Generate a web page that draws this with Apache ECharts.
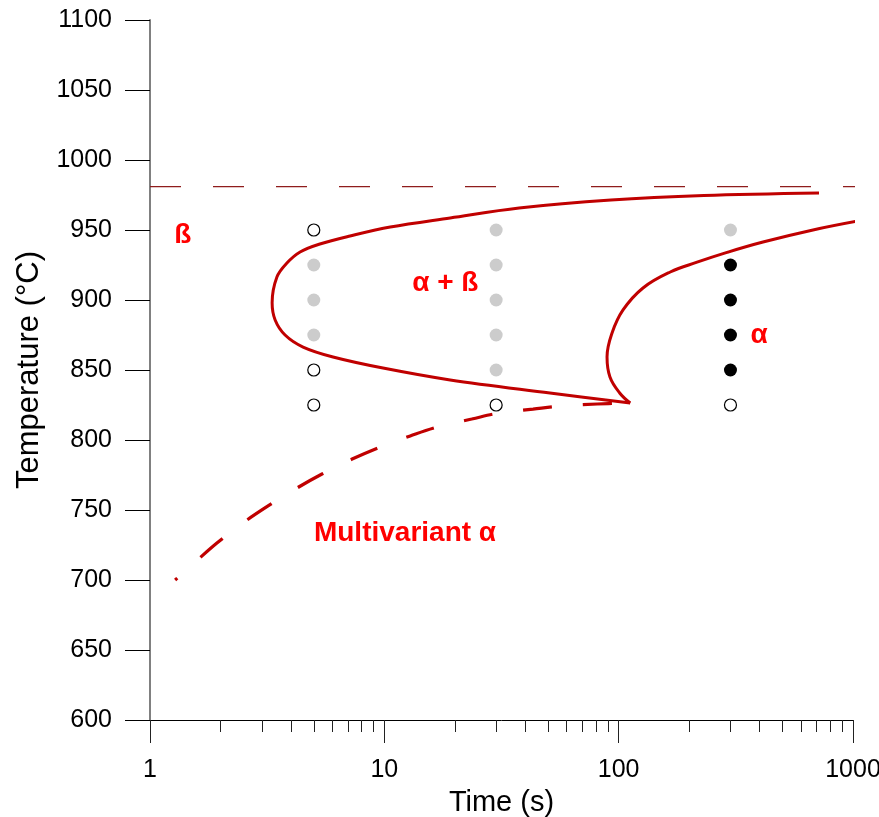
<!DOCTYPE html>
<html>
<head>
<meta charset="utf-8">
<script src="https://cdn.jsdelivr.net/npm/echarts@6/dist/echarts.min.js"></script>
<style>
  html, body { margin: 0; padding: 0; background: #fff; }
  #chart { width: 879px; height: 817px; }
</style>
</head>
<body>
<div id="chart"></div>
<script>
// axis ticks
var majorTicks = [1, 10, 100, 1000];
var minorTicks = [2, 3, 4, 5, 6, 7, 8, 9, 20, 30, 40, 50, 60, 70, 80, 90, 200, 300, 400, 500, 600, 700, 800, 900];

// beta transus (dashed line), [time, temp]
var transus = [[1, 981], [1180, 981]];

// alpha+beta C-curve: upper branch -> nose -> lower branch -> tip
var curveUpper = [
  [716, 976.4], [231, 974.6], [92.7, 971.4], [37.6, 965.7], [19.1, 958.6], [10.6, 952.1],
  [7.14, 945.7], [5.31, 940], [4.37, 934.3], [3.84, 926.4], [3.48, 916.4], [3.32, 898],
  [3.42, 885.7], [3.77, 875], [4.5, 866.4], [6.04, 859.3],
  [9.87, 851.4], [19.1, 842.9], [50.9, 833.6], [112, 826.4]
];
// curl back up from the tip (alpha finish)
var curveReturn = [
  [112, 826.4], [101, 833.6], [91.8, 845], [89.2, 859.3], [93.7, 876.4], [104.4, 892.9],
  [127, 908.6], [166, 920], [216, 927], [290, 934], [413, 941.4], [675, 950], [1050, 956.4]
];
// multivariant alpha start (dashed)
var multiCurve = [
  [1.28, 700], [1.54, 712], [1.93, 726.4], [2.49, 740.7], [3.19, 752.9], [4.24, 765.7],
  [5.42, 775.7], [7.29, 786.4], [9.6, 795], [12.9, 802.9], [16.9, 809.3], [23.6, 815],
  [31, 819.3], [43.1, 822.1], [57.5, 824.3], [81, 825.7], [114, 826.4]
];

// experiment points
var openPts = [[5, 950], [5, 850], [5, 825], [30, 825], [300, 825]];
var grayPts = [[5, 925], [5, 900], [5, 875], [30, 950], [30, 925], [30, 900], [30, 875], [30, 850], [300, 950]];
var blackPts = [[300, 925], [300, 900], [300, 875], [300, 850]];

// region labels [time, temp, text]
var regionLabels = [
  [1.38, 946.4, 'ß'],
  [18.2, 912, 'α + ß'],
  [397, 875, 'α'],
  [12.25, 733.6, 'Multivariant α']
];

var FONT = 'Liberation Sans, Arial, sans-serif';
var RED = '#c00000';

var chart = echarts.init(document.getElementById('chart'));

var option = {
  animation: false,
  backgroundColor: '#fff',
  grid: { left: 150, right: 26, top: 20, bottom: 97, containLabel: false, outerBoundsMode: 'none' },
  xAxis: [
    {
      type: 'log', logBase: 10, min: 1, max: 1000,
      name: 'Time (s)', nameLocation: 'middle', nameGap: 68,
      nameTextStyle: { fontFamily: FONT, fontSize: 29, color: '#000' },
      axisLine: { show: true, lineStyle: { color: '#000', width: 1 } },
      axisTick: { show: true, length: 23, customValues: majorTicks, lineStyle: { color: '#222', width: 1 } },
      axisLabel: {
        customValues: majorTicks, margin: 38, fontFamily: FONT, fontSize: 25, color: '#000',
        formatter: function (v) { return String(v); }
      },
      splitLine: { show: false },
      minorTick: { show: false }
    },
    {
      type: 'log', logBase: 10, min: 1, max: 1000, position: 'bottom',
      axisLine: { show: false },
      axisTick: { show: true, length: 12, customValues: minorTicks, lineStyle: { color: '#222', width: 1 } },
      axisLabel: { show: false },
      splitLine: { show: false }
    }
  ],
  yAxis: {
    type: 'value', min: 600, max: 1100, interval: 50,
    name: 'Temperature (°C)', nameLocation: 'middle', nameGap: 105, nameRotate: 90,
    nameTextStyle: { fontFamily: FONT, fontSize: 31, color: '#000' },
    axisLine: { show: true, lineStyle: { color: '#808080', width: 2 } },
    axisTick: { show: true, length: 25, lineStyle: { color: '#000', width: 1 } },
    axisLabel: {
      margin: 38, fontFamily: FONT, fontSize: 25, color: '#000',
      formatter: function (v) { return String(v); }
    },
    splitLine: { show: false }
  },
  series: [
    {
      type: 'line', data: transus, symbol: 'none', clip: false, silent: true,
      lineStyle: { color: '#8f1c1c', width: 1.2, type: [31, 32] }
    },
    {
      type: 'line', data: multiCurve, symbol: 'none', smooth: 0.4, clip: false,
      lineStyle: { color: RED, width: 3.2, type: [29, 31], dashOffset: 26 }
    },
    {
      type: 'line', data: curveUpper, symbol: 'none', smooth: 0.35, clip: false,
      lineStyle: { color: RED, width: 3 }
    },
    {
      type: 'line', data: curveReturn, symbol: 'none', smooth: 0.4, clip: false,
      lineStyle: { color: RED, width: 3 }
    },
    {
      type: 'scatter', data: grayPts, symbol: 'circle', symbolSize: 13,
      itemStyle: { color: '#cccccc', opacity: 1 }
    },
    {
      type: 'scatter', data: blackPts, symbol: 'circle', symbolSize: 13,
      itemStyle: { color: '#000', opacity: 1 }
    },
    {
      type: 'scatter', data: openPts, symbol: 'circle', symbolSize: 12,
      itemStyle: { color: '#fff', borderColor: '#000', borderWidth: 1.2, opacity: 1 }
    },
    {
      type: 'scatter', symbolSize: 0, silent: true,
      itemStyle: { opacity: 1 },
      data: regionLabels.map(function (d) { return { value: [d[0], d[1]], name: d[2] }; }),
      label: {
        show: true, position: 'inside', formatter: '{b}',
        fontFamily: FONT, fontSize: 28, fontWeight: 'bold', color: '#ff0000'
      }
    }
  ]
};

chart.setOption(option);
window.addEventListener('resize', function () { chart.resize(); });
</script>
</body>
</html>
